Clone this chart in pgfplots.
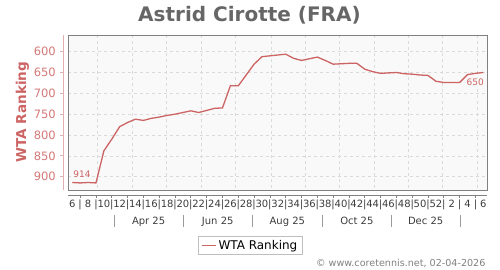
\documentclass[border=0pt]{standalone}
\usepackage{pgfplots}
\pgfplotsset{compat=1.18}
\usepackage{fontspec}
\setmainfont{DejaVu Sans}
\definecolor{linec}{RGB}{205,100,100}
\definecolor{ytc}{RGB}{212,120,120}
\definecolor{yaxc}{RGB}{225,175,175}
\definecolor{bgc}{RGB}{249,249,249}
\definecolor{framec}{RGB}{128,128,128}
\definecolor{gridc}{RGB}{218,218,218}
\definecolor{txtc}{RGB}{60,60,60}
\definecolor{titlec}{RGB}{102,102,102}
\pgfplotstableread{
i rank
0 914
1 915
2 914
3 915
4 838
5 810
6 780
7 770
8 762
9 765
10 760
11 757
12 753
13 750
14 746
15 742
16 746
17 741
18 736
19 735
20 682
21 682
22 656
23 630
24 612
25 610
26 608
27 606
28 616
29 621
30 617
31 613
32 621
33 630
34 629
35 628
36 628
37 642
38 648
39 652
40 651
41 650
42 653
43 654
44 656
45 657
46 671
47 674
48 674
49 674
50 655
51 652
52 650
}\rankdata
\begin{document}
\begin{tikzpicture}
\path[use as bounding box] (0,0) rectangle (500pt,270pt);
% main plot area
\begin{axis}[at={(68.3pt,79.7pt)}, anchor=south west, width=419pt, height=155pt, scale only axis,
 xmin=-0.5, xmax=52.5, ymin=560.7, ymax=932.7, y dir=reverse,
 axis background/.style={fill=bgc},
 axis line style={draw=framec, line width=1.1pt},
 xtick={3.12,7.6,11.95,16.33,20.68,25.13,29.48,33.8,38.2,42.5,46.8,51.2},
 xticklabels={}, ytick={600,650,...,900}, yticklabels={},
 major tick length=0pt,
 grid=major, grid style={gridc, dash pattern=on 3pt off 3pt, line width=0.6pt},
 clip=false,
 legend style={at={(0.4337,-0.356)}, anchor=center, draw=gray!50, fill=white,
   font=\fontsize{12}{14}\selectfont, inner xsep=3pt, inner ysep=1.5pt},
 legend image code/.code={\draw[draw=linec, line width=1.8pt] (0pt,0pt) -- (14pt,0pt);}
]
\addplot[linec, line width=1.3pt] table[x=i, y=rank] {\rankdata};
\addlegendentry{WTA Ranking}
\node[anchor=base west, text=linec, font=\fontsize{9}{11}\selectfont, inner sep=0pt, xshift=1pt, yshift=5.4pt] at (axis cs:0,914) {914};
\node[anchor=base east, text=linec, font=\fontsize{9}{11}\selectfont, inner sep=0.8pt, fill=bgc, xshift=1.5pt, yshift=-12.7pt] at (axis cs:52,650) {650};
\end{axis}
% y axis line with labels
\begin{axis}[at={(63.3pt,79.7pt)}, anchor=south west, width=419pt, height=155pt, scale only axis,
 xmin=-0.5, xmax=52.5, ymin=560.7, ymax=932.7, y dir=reverse,
 axis x line=none, axis y line=left, y axis line style={draw=yaxc, line width=1pt, -},
 ytick={600,650,...,900}, tick align=outside, major tick length=3pt,
 ytick style={draw=yaxc, line width=0.8pt},
 yticklabel style={text=ytc, font=\fontsize{11.5}{13}\selectfont, inner sep=0pt, anchor=east, xshift=-4.3pt},
 /pgf/number format/assume math mode=true
]
\end{axis}
% x axis line with week labels
\begin{axis}[at={(68.3pt,75pt)}, anchor=south west, width=419pt, height=20pt, scale only axis,
 xmin=-0.5, xmax=52.5, ymin=0, ymax=1,
 axis y line=none, axis x line=bottom, x axis line style={draw=framec, line width=0.9pt, -},
 xtick={0,...,52},
 xticklabels={6,|,8,|,10,|,12,|,14,|,16,|,18,|,20,|,22,|,24,|,26,|,28,|,30,|,32,|,34,|,36,|,38,|,40,|,42,|,44,|,46,|,48,|,50,|,52,|,2,|,4,|,6},
 major tick length=0pt,
 minor xtick={1,3,...,51}, minor tick length=3pt, tick align=outside,
 minor tick style={draw=framec, line width=0.7pt},
 xticklabel style={anchor=base, yshift=-13pt, inner sep=0pt, font=\fontsize{10}{12}\selectfont, text=txtc},
 clip=false
]
\pgfplotsinvokeforeach{5.31,14.04,22.77,31.62,40.32,49.05}{
 \draw[framec!80, line width=0.7pt] (axis cs:#1,0) ++(0pt,-20pt) -- ++(0pt,-12pt);
}
\node[anchor=base, font=\fontsize{10}{12}\selectfont, text=txtc] at (axis cs:9.66,0) [yshift=-29.3pt] {Apr 25};
\node[anchor=base, font=\fontsize{10}{12}\selectfont, text=txtc] at (axis cs:18.4,0) [yshift=-29.3pt] {Jun 25};
\node[anchor=base, font=\fontsize{10}{12}\selectfont, text=txtc] at (axis cs:27.2,0) [yshift=-29.3pt] {Aug 25};
\node[anchor=base, font=\fontsize{10}{12}\selectfont, text=txtc] at (axis cs:36.0,0) [yshift=-29.3pt] {Oct 25};
\node[anchor=base, font=\fontsize{10}{12}\selectfont, text=txtc] at (axis cs:44.7,0) [yshift=-29.3pt] {Dec 25};
\end{axis}
% titles
\node[anchor=base, font=\bfseries\fontsize{20}{24}\selectfont, text=titlec] at (249.5pt,248.3pt) {Astrid Cirotte (FRA)};
\node[anchor=base, rotate=90, font=\bfseries\fontsize{13.6}{16}\selectfont, text=linec] at (26pt,157.8pt) {WTA Ranking};
\node[anchor=east, font=\fontsize{9.6}{11}\selectfont, text=gray] at (489pt,7pt) {© www.coretennis.net, 02-04-2026};
\end{tikzpicture}
\end{document}
